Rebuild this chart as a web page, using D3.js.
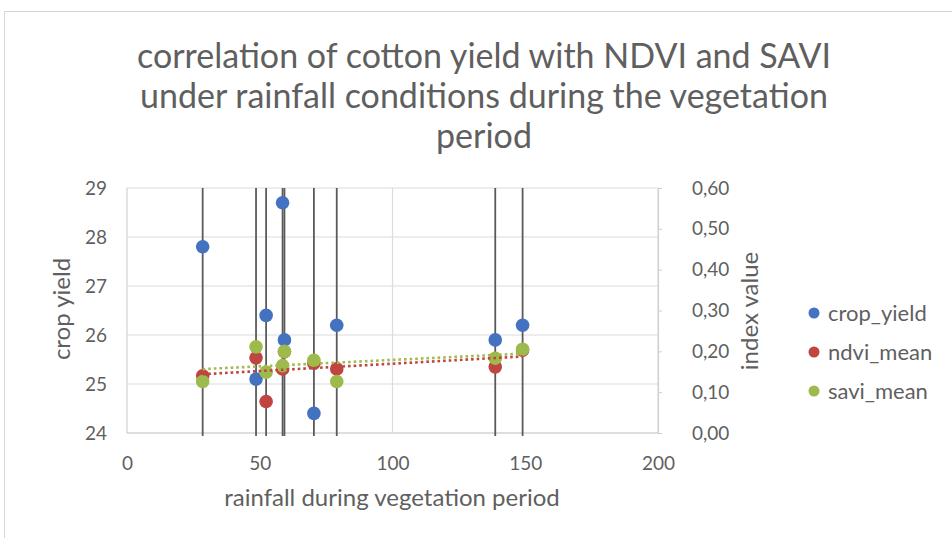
<!DOCTYPE html>
<html>
<head>
<meta charset="utf-8">
<script src="https://cdn.jsdelivr.net/npm/d3@7"></script>
<style>
  html, body { margin: 0; padding: 0; background: #fff; }
  svg { display: block; }
  text { font-family: Lato, "Open Sans", sans-serif; fill: #5f5f5f; }
</style>
</head>
<body>
<svg id="chart" width="952" height="538"></svg>
<script>
// Rainfall during the vegetation period (x) and per-season measurements
const rainfall   = [28.5, 48.6, 52.4, 58.6, 59.3, 70.4, 79.0, 138.7, 149.0];
const cropYield  = [27.8, 25.1, 26.4, 28.7, 25.9, 24.4, 26.2, 25.9, 26.2];
const ndviMean   = [0.140, 0.184, 0.077, 0.157, 0.199, 0.171, 0.157, 0.162, 0.203];
const saviMean   = [0.126, 0.211, 0.149, 0.165, 0.200, 0.178, 0.126, 0.183, 0.205];

const seriesNames  = ["crop_yield", "ndvi_mean", "savi_mean"];
const seriesColors = ["#4272c0", "#c0443f", "#9cbb4c"];

const titleLines   = ["correlation of cotton yield with NDVI and SAVI",
                      "under rainfall conditions during the vegetation",
                      "period"];
const xTicks       = [0, 50, 100, 150, 200];
const yLeftTicks   = [24, 25, 26, 27, 28, 29];
const yRightTicks  = [0, 0.1, 0.2, 0.3, 0.4, 0.5, 0.6];

const svg = d3.select("#chart");

// chart frame
svg.append("rect")
  .attr("x", 4.5).attr("y", 11.5).attr("width", 1000).attr("height", 600)
  .attr("fill", "#fff").attr("stroke", "#d6d6d6");

const plot = { left: 127, right: 658, top: 188, bottom: 433 };

const x  = d3.scaleLinear().domain([0, 200]).range([plot.left, plot.right]);
const yL = d3.scaleLinear().domain([24, 29]).range([plot.bottom, plot.top]);
const yR = d3.scaleLinear().domain([0, 0.6]).range([plot.bottom, plot.top]);

// title
svg.append("g").selectAll("text").data(titleLines).join("text")
  .attr("x", 484).attr("y", (d, i) => 68 + i * 40)
  .attr("text-anchor", "middle")
  .style("font-size", "34px")
  .text(d => d);

// horizontal gridlines (primary axis)
svg.append("g").selectAll("line").data(yLeftTicks).join("line")
  .attr("x1", plot.left).attr("x2", plot.right)
  .attr("y1", d => yL(d)).attr("y2", d => yL(d))
  .attr("stroke", "#dcdcdc").attr("stroke-width", 1.2);

// vertical gridlines
svg.append("g").selectAll("line").data([100, 200]).join("line")
  .attr("x1", d => x(d)).attr("x2", d => x(d))
  .attr("y1", plot.top).attr("y2", plot.bottom)
  .attr("stroke", "#dcdcdc").attr("stroke-width", 1.2);

// axis lines
svg.append("line").attr("x1", plot.left).attr("x2", plot.left)
  .attr("y1", plot.top).attr("y2", plot.bottom).attr("stroke", "#d0d0d0").attr("stroke-width", 1.2);
svg.append("line").attr("x1", plot.left).attr("x2", plot.right)
  .attr("y1", plot.bottom).attr("y2", plot.bottom).attr("stroke", "#d0d0d0").attr("stroke-width", 1.2);

// bottom axis
const gx = svg.append("g").attr("transform", `translate(0,${plot.bottom})`)
  .call(d3.axisBottom(x).tickValues(xTicks).tickSize(0).tickPadding(24));
gx.select(".domain").remove();
gx.selectAll("text").style("font-size", "19px").attr("fill", "#6a6a6a");

// left axis
const gl = svg.append("g").attr("transform", `translate(${plot.left},0)`)
  .call(d3.axisLeft(yL).tickValues(yLeftTicks).tickSize(0).tickPadding(20)
    .tickFormat(d3.format("d")));
gl.select(".domain").remove();
gl.selectAll("text").style("font-size", "19px").attr("fill", "#6a6a6a");

// right axis (index values)
const gr = svg.append("g").attr("transform", `translate(${plot.right},0)`)
  .call(d3.axisRight(yR).tickValues(yRightTicks).tickSize(4).tickPadding(30)
    .tickFormat(d => d.toFixed(2).replace(".", ",")));
gr.select(".domain").attr("stroke", "#d0d0d0").attr("stroke-width", 1.2);
gr.selectAll(".tick line").attr("stroke", "#d0d0d0");
gr.selectAll("text").style("font-size", "19px").attr("fill", "#6a6a6a");

// axis titles
svg.append("text").attr("x", 392).attr("y", 506).attr("text-anchor", "middle")
  .style("font-size", "24px").text("rainfall during vegetation period");
svg.append("text").attr("transform", `translate(70,309) rotate(-90)`)
  .attr("text-anchor", "middle").style("font-size", "24px").text("crop yield");
svg.append("text").attr("transform", `translate(758,311) rotate(-90)`)
  .attr("text-anchor", "middle").style("font-size", "24px").text("index value");

// error bars of the yield series, spanning the full value range
svg.append("g").selectAll("line").data(rainfall).join("line")
  .attr("x1", d => x(d)).attr("x2", d => x(d))
  .attr("y1", yL(29)).attr("y2", yL(24) + 3)
  .attr("stroke", "#5a5a5a").attr("stroke-width", 1.8);

// linear least-squares trendline over the x range of the data
function trend(xs, ys) {
  const mx = d3.mean(xs), my = d3.mean(ys);
  const slope = d3.sum(xs, (v, i) => (v - mx) * (ys[i] - my)) / d3.sum(xs, v => (v - mx) ** 2);
  const x0 = d3.min(xs), x1 = d3.max(xs);
  return [[x0, my + slope * (x0 - mx)], [x1, my + slope * (x1 - mx)]];
}

const pts = (ys) => rainfall.map((r, i) => [r, ys[i]]);

// crop yield points (primary axis)
svg.append("g").selectAll("circle").data(pts(cropYield)).join("circle")
  .attr("cx", d => x(d[0])).attr("cy", d => yL(d[1])).attr("r", 6.8)
  .attr("fill", seriesColors[0]);

// index series on the secondary axis
[[ndviMean, seriesColors[1]], [saviMean, seriesColors[2]]].forEach(([ys, c]) => {
  svg.append("g").selectAll("circle").data(pts(ys)).join("circle")
    .attr("cx", d => x(d[0])).attr("cy", d => yR(d[1])).attr("r", 6.8)
    .attr("fill", c);
});
[[ndviMean, "#c0443f"], [saviMean, "#a6b94a"]].forEach(([ys, c]) => {
  svg.append("path").datum(trend(rainfall, ys))
    .attr("d", d3.line().x(d => x(d[0])).y(d => yR(d[1])))
    .attr("fill", "none").attr("stroke", c).attr("stroke-width", 2.6)
    .attr("stroke-dasharray", "2.6 3");
});

// legend
const lg = svg.append("g").selectAll("g").data(seriesNames).join("g")
  .attr("transform", (d, i) => `translate(814,${313 + i * 39})`);
lg.append("circle").attr("r", 5.5).attr("fill", (d, i) => seriesColors[i]);
lg.append("text").attr("x", 14).attr("y", 7.5).style("font-size", "22px").text(d => d);
</script>
</body>
</html>
